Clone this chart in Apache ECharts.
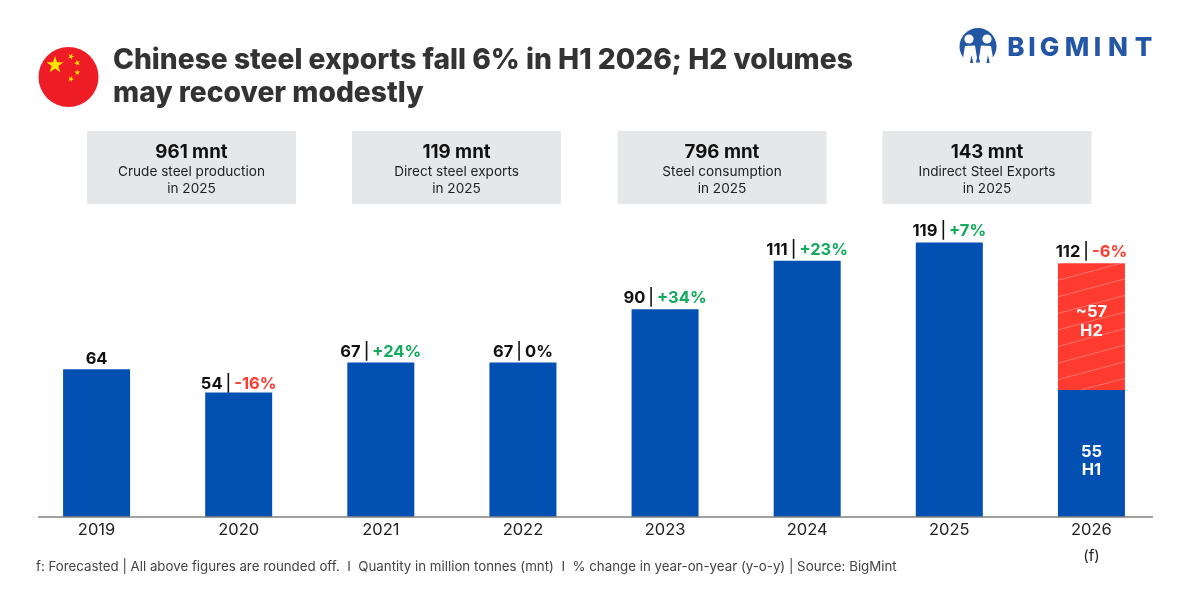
<!DOCTYPE html>
<html><head><meta charset="utf-8">
<style>html,body{margin:0;padding:0;background:#fff}#c{width:1200px;height:600px}</style>
<script src="https://cdn.jsdelivr.net/npm/echarts@6/dist/echarts.min.js"></script>
</head><body><div id="c"></div>
<script>
const years = ['2019','2020','2021','2022','2023','2024','2025','2026'];
const solidValues = [64,54,67,67,90,111,119,null];
const h1Values = [null,null,null,null,null,null,null,55];
const h2Values = [null,null,null,null,null,null,null,55];
const topTotals = [64,54,67,67,90,111,119,110];
const totalLabels = ['64','54','67','67','90','111','119','112'];
const changeLabels = ['','-16%','+24%','0%','+34%','+23%','+7%','-6%'];
const h1Label = '55\nH1';
const h2Label = '~57\nH2';
const kpiValues = ['961 mnt','119 mnt','796 mnt','143 mnt'];
const kpiLines = ['Crude steel production\nin 2025','Direct steel exports\nin 2025','Steel consumption\nin 2025','Indirect Steel Exports\nin 2025'];
const titleText = 'Chinese steel exports fall 6% in H1 2026; H2 volumes\nmay recover modestly';
const footText = 'f: Forecasted | All above figures are rounded off.  I  Quantity in million tonnes (mnt)  I  % change in year-on-year (y-o-y) | Source: BigMint';
const logoLetters = ['B','I','G','M','I','N','T'];

const BLUE='#0350b3', RED='#ff3b30', GREEN='#12ab5c', LOGO='#2356a4', FONT='Inter, "Liberation Sans", sans-serif';

function star(cx,cy,r,rot){
  const pts=[];
  for(let i=0;i<10;i++){
    const rr=i%2?r*0.382:r, a=-Math.PI/2+rot+i*Math.PI/5;
    pts.push([cx+rr*Math.cos(a),cy+rr*Math.sin(a)]);
  }
  return {type:'polygon',shape:{points:pts},style:{fill:'#ffe600'},silent:true};
}
const boxX=[87,352,617.5,882.5];
const logoX=[1016,1032,1049.5,1077,1097.5,1118,1143.5];
const W={fill:'#fff'}, L={fill:LOGO};
const graphics=[
  {type:'circle',shape:{cx:68.5,cy:77,r:30},style:{fill:'#ee1c25'}},
  star(55,65,9,0),star(71,56.5,3.2,0.4),star(77.3,63,3.2,0.9),star(77.3,72.5,3.2,0),star(71,79,3.2,0.4),
  {type:'circle',shape:{cx:978,cy:46.5,r:18.5},style:L},
  {type:'circle',shape:{cx:969,cy:39,r:4.6},style:W},
  {type:'circle',shape:{cx:987,cy:39,r:4.6},style:W},
  {type:'polygon',shape:{points:[[965,46],[975,45.5],[977,58],[975,66],[966,66],[963,58]]},style:W},
  {type:'polygon',shape:{points:[[991,46],[981,45.5],[979,58],[981,66],[990,66],[993,58]]},style:W},
  {type:'rect',shape:{x:958,y:62.5,width:40,height:4},style:W},
  {type:'polygon',shape:{points:[[971.5,55],[973.2,63],[970,63]]},style:L},
  {type:'polygon',shape:{points:[[988,55],[989.7,63],[986.5,63]]},style:L},
  {type:'line',shape:{x1:38,y1:517,x2:1153,y2:517},style:{stroke:'#808080',lineWidth:1.5},z:10},
  {type:'text',x:36,y:560,style:{text:footText,fill:'#444',font:'13.3px '+FONT}}
];
logoLetters.forEach((ch,i)=>graphics.push({type:'text',x:logoX[i],y:35.5,style:{text:ch,fill:LOGO,font:'800 26px '+FONT,align:'center'}}));
kpiValues.forEach((v,i)=>{
  graphics.push({type:'rect',shape:{x:boxX[i],y:131,width:209,height:73},style:{fill:'#e6e7e9'}});
  graphics.push({type:'text',x:boxX[i]+104.5,y:142.5,style:{text:v,fill:'#111',font:'700 18.7px '+FONT,align:'center'}});
  graphics.push({type:'text',x:boxX[i]+104.5,y:163,style:{text:kpiLines[i],fill:'#222',font:'13.6px '+FONT,align:'center',lineHeight:17}});
});

const chart=echarts.init(document.getElementById('c'),null,{renderer:'canvas'});
const lab={fontFamily:FONT,fontWeight:700,fontSize:16.5};
chart.setOption({
  animation:false,
  backgroundColor:'#fff',
  textStyle:{fontFamily:FONT},
  title:{text:titleText,left:108,top:39,textStyle:{fontFamily:FONT,fontWeight:800,fontSize:28.2,lineHeight:33,color:'#333'}},
  graphic:graphics,
  grid:{left:25.5,right:37.5,top:217,bottom:83},
  xAxis:{type:'category',data:years,axisLine:{show:false},axisTick:{show:false},
    axisLabel:{margin:0,formatter:v=>v==='2026'?'{y|2026}\n{f|(f)}':'{y|'+v+'}',
      rich:{y:{fontFamily:FONT,fontSize:16.5,color:'#222',lineHeight:26},f:{fontFamily:FONT,fontSize:15,color:'#222',lineHeight:26}}}},
  yAxis:{type:'value',min:0,max:130,show:false,splitLine:{show:false}},
  series:[
    {type:'bar',name:'Exports',data:solidValues,stack:'a',barWidth:67,itemStyle:{color:BLUE}},
    {type:'bar',name:'H1',data:h1Values,stack:'a',barWidth:67,itemStyle:{color:BLUE},
      label:{show:true,position:'inside',formatter:h1Label,color:'#fff',...lab,lineHeight:18,offset:[0,8]}},
    {type:'bar',name:'H2',data:h2Values,stack:'a',barWidth:67,
      itemStyle:{color:RED,decal:{symbol:'rect',symbolSize:1,rotation:-Math.PI/12,dashArrayX:[[1,0]],dashArrayY:[1,15],color:'rgba(255,255,255,0.28)'}},
      label:{show:true,position:'inside',formatter:h2Label,color:'#fff',...lab,lineHeight:19,offset:[0,-5]}},
    {type:'line',name:'Totals',
      data:topTotals.map((v,i)=>i===1?{value:v,label:{offset:[0,3]}}:(i===0||i===2||i===3)?{value:v,label:{offset:[0,1]}}:v),
      symbol:'circle',symbolSize:1,itemStyle:{color:'rgba(0,0,0,0)'},lineStyle:{width:0},z:5,
      label:{show:true,position:'top',distance:2,
        formatter:p=>{
          const i=p.dataIndex,c=changeLabels[i];
          if(!c) return '{v|'+totalLabels[i]+'}';
          const st=c==='0%'?'v':(c[0]==='-'?'r':'g');
          return '{v|'+totalLabels[i]+'}{s||}{'+st+'|'+c+'}';
        },
        rich:{v:{...lab,color:'#111'},
              s:{...lab,fontWeight:500,color:'#111',padding:[0,3]},
              r:{...lab,color:RED},
              g:{...lab,color:GREEN}}}}
  ]
});
</script></body></html>
